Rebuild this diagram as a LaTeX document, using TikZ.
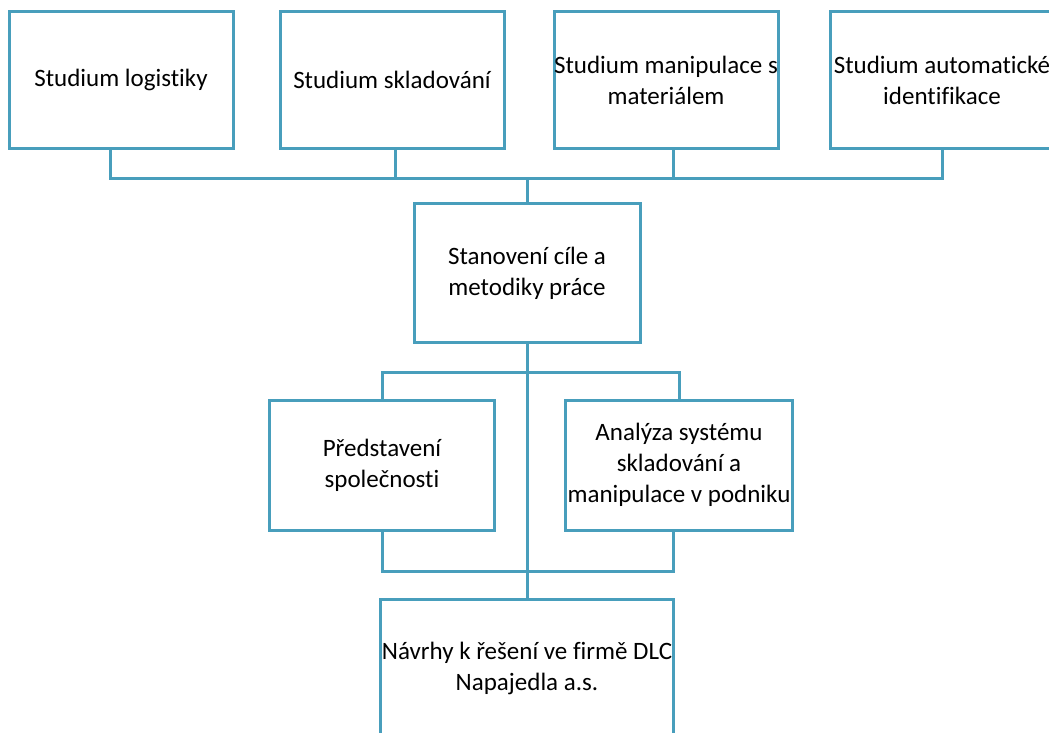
\documentclass[tikz,border=0pt]{standalone}
\usepackage{fontspec}
\setmainfont{Carlito}[Ligatures=NoCommon]
\usepackage{xcolor}
\usetikzlibrary{shapes,arrows,positioning}
\definecolor{planblue}{RGB}{72,158,188}

\begin{document}
\begin{tikzpicture}[x=1pt, y=-1pt]
    \tikzstyle{box} = [rectangle, minimum width=224pt, minimum height=136pt, align=center, draw=planblue, line width=3pt, font=\fontsize{25}{31}\selectfont, inner sep=0pt]
    \tikzstyle{link} = [line width=3pt, planblue]

    \useasboundingbox (0,0) rectangle (1049,733);
    \clip (0,0) rectangle (1049,733);

    \node (logist) [box] at (121,80) {Studium logistiky};
    \node (sklad) [box] at (392,80) {Studium skladování};
    \node (manip) [box] at (666,80) {Studium manipulace s\\materiálem};
    \node (autoid) [box] at (942,80) {Studium automatické\\identifikace};

    \node (cil) [box, minimum width=226pt, minimum height=139pt] at (527,273) {Stanovení cíle a\\metodiky práce};

    \node (predst) [box, minimum width=225pt, minimum height=130pt] at (382,465) {Představení\\společnosti};
    \node (analyza) [box, minimum width=227pt, minimum height=130pt] at (679,465) {Analýza systému\\skladování a\\manipulace v podniku};

    \node (navrhy) [box, minimum width=293pt, minimum height=137pt] at (527,668) {Návrhy k řešení ve firmě DLC\\Napajedla a.s.};

    % horni sbernice
    \coordinate (topbus) at (527,178);
    \draw [link] ([xshift=-11pt]logist.south) -- ([xshift=-11pt]logist.south |- topbus) -- (autoid.south |- topbus) -- (autoid.south);
    \draw [link] ([xshift=3pt]sklad.south) -- ([xshift=3pt]sklad.south |- topbus);
    \draw [link] ([xshift=7pt]manip.south) -- ([xshift=7pt]manip.south |- topbus);
    \draw [link] (cil.north) -- (cil.north |- topbus);

    % vetveni pod cilem
    \coordinate (midbus) at (527,372);
    \coordinate (lowbus) at (527,571);
    \draw [link] (predst.north) -- (predst.north |- midbus) -- (analyza.north |- midbus) -- (analyza.north);
    \draw [link] (predst.south) -- (predst.south |- lowbus) -- ([xshift=-6pt]analyza.south |- lowbus) -- ([xshift=-6pt]analyza.south);
    \draw [link] (cil.south) -- (navrhy.north);
\end{tikzpicture}
\end{document}
